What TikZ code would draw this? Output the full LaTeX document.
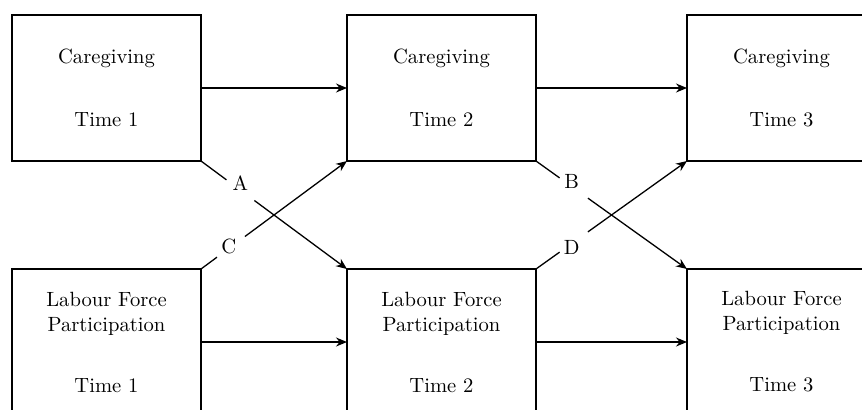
\documentclass[tikz,border=0pt]{standalone}
\usetikzlibrary{positioning, calc, arrows.meta}

\begin{document}
\begin{tikzpicture}[
    box/.style={draw, line width=0.65pt, outer sep=0pt, minimum width=94.5pt, minimum height=73pt, align=center, font=\fontsize{10.3}{12.5}\selectfont},
    gap/.style={circle, minimum size=17pt, inner sep=0pt},
    tag/.style={font=\fontsize{10.3}{12.5}\selectfont},
    link/.style={line width=0.65pt},
    arr/.style={link, -{Stealth[length=5.5pt, width=4.5pt]}}
]
    \clip (-53.25pt,-160.5pt) rectangle (377.75pt,44pt);
    \node[box] (C1) {Caregiving\\[19pt]Time 1};
    \node[box] (C2) [right=73pt of C1] {Caregiving\\[19pt]Time 2};
    \node[box] (C3) [right=75.5pt of C2] {Caregiving\\[19pt]Time 3};
    \node[box] (L1) [below=54pt of C1] {Labour Force\\Participation\\[18pt]Time 1};
    \node[box] (L2) [below=54pt of C2] {Labour Force\\Participation\\[18pt]Time 2};
    \node[box] (L3) [below=54pt of C3] {Labour Force\\Participation\\[18pt]Time 3};
    % cross-lagged labels sit in the gaps of the lines
    \node[gap, label={[tag, yshift=3.5pt]center:A}] (A) at ($(C1.south east)!0.27!(L2.north west)$) {};
    \node[gap, label={[tag, xshift=-1pt]center:C}] (C) at ($(L1.north east)!0.205!(C2.south west)$) {};
    \node[gap, label={[tag, xshift=-1pt, yshift=3.5pt]center:B}] (B) at ($(C2.south east)!0.25!(L3.north west)$) {};
    \node[gap, label={[tag, xshift=-1pt, yshift=-2.8pt]center:D}] (D) at ($(L2.north east)!0.25!(C3.south west)$) {};
    \draw[arr] (C1) -- (C2);
    \draw[arr] (C2) -- (C3);
    \draw[arr] (L1) -- (L2);
    \draw[arr] (L2) -- (L3);
    \draw[link] (C1.south east) -- (A);
    \draw[arr] (A) -- (L2.north west);
    \draw[link] (L1.north east) -- (C);
    \draw[arr] (C) -- (C2.south west);
    \draw[link] (C2.south east) -- (B);
    \draw[arr] (B) -- (L3.north west);
    \draw[link] (L2.north east) -- (D);
    \draw[arr] (D) -- (C3.south west);
\end{tikzpicture}
\end{document}
